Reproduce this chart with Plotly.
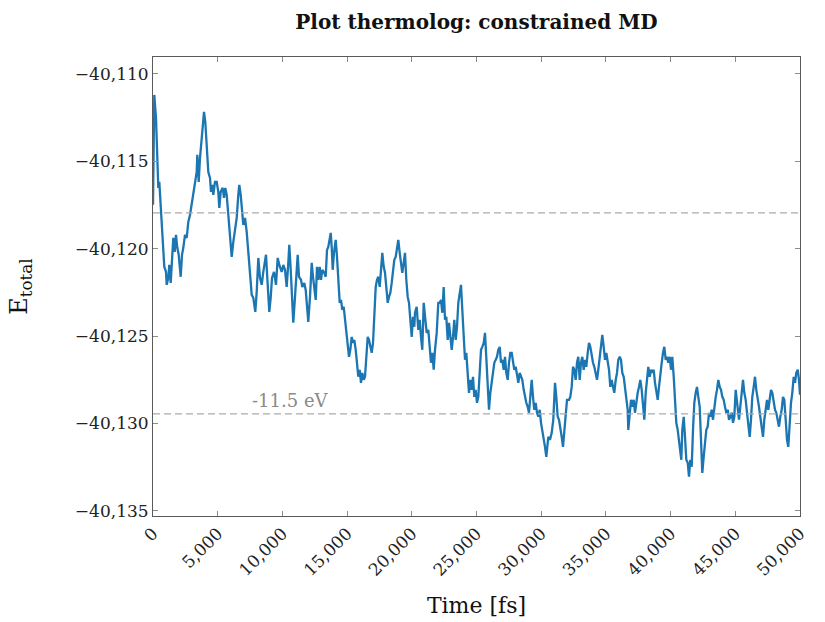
import plotly.graph_objects as go

# Total energy trace of the constrained MD run, split into five stretches of the trajectory
time_a = [0, 100, 232, 286, 332, 410, 487, 541, 672, 796, 873, 1005, 1059, 1182, 1260, 1368, 1468, 1569, 1677, 1777,
          1878, 1986, 2141, 2241, 2342, 2473, 2604, 2728, 2859, 2991, 3114, 3246, 3377, 3424, 3532, 3632, 3764, 3841,
          3941, 4042, 4150, 4274, 4405, 4482, 4583, 4660, 4791, 4923, 5046, 5124, 5232, 5386, 5487, 5587, 5696, 5819,
          5951, 6082, 6206, 6337, 6468, 6592, 6669, 6778, 6878, 6978, 7110, 7241, 7365, 7496, 7628, 7751, 7906, 8014,
          8138, 8269, 8400, 8524, 8733, 8833, 8988, 9096, 9196, 9351, 9505, 9637, 9761, 9946, 10070]
energy_a = [-40117.49, -40111.20, -40112.52, -40113.89, -40115.38, -40116.52, -40116.18, -40116.92, -40118.64, -40120.18,
            -40121.04, -40121.33, -40122.07, -40121.67, -40120.93, -40121.96, -40120.53, -40119.38, -40120.18, -40119.21,
            -40119.95, -40120.35, -40121.61, -40120.35, -40119.95, -40119.21, -40119.38, -40118.47, -40118.07, -40117.49,
            -40116.75, -40116.35, -40115.61, -40114.63, -40116.18, -40114.81, -40113.66, -40112.75, -40112.17, -40112.75,
            -40114.46, -40115.61, -40115.95, -40116.75, -40116.35, -40116.92, -40116.18, -40116.18, -40116.75, -40117.67,
            -40116.75, -40116.52, -40117.09, -40116.52, -40116.92, -40118.24, -40119.04, -40120.47, -40119.61, -40119.04,
            -40118.24, -40116.92, -40116.35, -40116.92, -40118.07, -40118.64, -40118.24, -40119.04, -40120.18, -40121.33,
            -40122.64, -40122.81, -40123.62, -40122.47, -40120.53, -40121.67, -40122.07, -40121.33, -40120.35, -40121.67,
            -40123.62, -40122.81, -40121.67, -40121.33, -40122.07, -40120.53, -40120.93, -40121.33, -40120.93]

time_b = [10201, 10332, 10456, 10533, 10642, 10719, 10842, 10974, 11105, 11182, 11283, 11437, 11538, 11692, 11801,
          11901, 12001, 12133, 12264, 12365, 12465, 12574, 12674, 12774, 12882, 12983, 13083, 13238, 13346, 13447,
          13547, 13655, 13733, 13810, 13887, 13988, 14119, 14220, 14320, 14428, 14529, 14629, 14737, 14838, 14938,
          15046, 15147, 15247, 15356, 15456, 15556, 15665, 15765, 15866, 15974, 16074, 16175, 16283, 16383, 16484,
          16592, 16692, 16793, 16901, 17002, 17102, 17211, 17311, 17411, 17520, 17620, 17720, 17829, 17929, 18029,
          18138, 18238, 18339, 18447, 18547, 18648, 18756, 18856, 18957, 19065, 19165, 19266, 19374, 19475, 19575,
          19683, 19784, 19884, 19993, 20093, 20193]
energy_b = [-40121.21, -40122.19, -40120.81, -40119.78, -40121.21, -40122.36, -40124.24, -40122.76, -40121.21, -40120.35,
            -40121.61, -40121.78, -40122.19, -40121.96, -40122.36, -40123.33, -40124.19, -40122.76, -40120.81, -40121.61,
            -40122.19, -40122.93, -40121.04, -40121.78, -40121.04, -40121.78, -40121.21, -40121.38, -40121.61, -40120.07,
            -40119.90, -40119.32, -40119.10, -40119.90, -40121.21, -40120.24, -40119.50, -40120.47, -40122.19, -40123.10,
            -40122.93, -40123.50, -40123.33, -40124.07, -40124.65, -40125.62, -40126.19, -40125.79, -40125.05, -40125.39,
            -40125.22, -40125.79, -40126.76, -40127.33, -40126.93, -40127.68, -40127.11, -40127.51, -40127.33, -40125.96,
            -40125.05, -40125.22, -40125.62, -40125.96, -40125.39, -40124.07, -40122.19, -40121.78, -40121.61, -40122.19,
            -40121.38, -40120.24, -40121.04, -40121.38, -40122.19, -40123.10, -40122.76, -40122.53, -40121.96, -40121.21,
            -40120.64, -40120.47, -40120.07, -40119.50, -40120.24, -40120.81, -40121.38, -40120.81, -40120.24, -40121.78,
            -40122.76, -40123.10, -40124.07, -40125.05, -40123.90, -40124.47]

time_c = [20247, 20379, 20502, 20611, 20711, 20811, 20920, 21020, 21151, 21275, 21384, 21484, 21584, 21693, 21793,
          21924, 22048, 22156, 22257, 22357, 22465, 22566, 22666, 22775, 22875, 22975, 23084, 23184, 23285, 23393,
          23493, 23594, 23702, 23802, 23903, 24011, 24111, 24212, 24320, 24420, 24521, 24629, 24730, 24830, 24938,
          25039, 25139, 25248, 25348, 25448, 25557, 25657, 25758, 25866, 25966, 26067, 26175, 26275, 26376, 26484,
          26584, 26685, 26793, 26893, 26994, 27102, 27203, 27303, 27411, 27512, 27612, 27721, 27821, 27921, 28030,
          28130, 28231, 28339, 28439, 28540, 28648, 28748, 28849, 28957, 29057, 29158, 29266, 29366, 29467, 29575,
          29676, 29776, 29884, 29985, 30085, 30193, 30294, 30394]
energy_c = [-40123.67, -40123.33, -40124.65, -40124.07, -40125.05, -40125.79, -40123.10, -40123.90, -40124.82, -40124.65,
            -40125.62, -40126.53, -40125.96, -40126.93, -40125.79, -40124.82, -40123.10, -40123.10, -40122.93, -40123.67,
            -40122.19, -40124.07, -40123.90, -40125.22, -40124.24, -40125.05, -40125.79, -40125.05, -40124.07, -40125.22,
            -40124.47, -40123.10, -40122.53, -40122.07, -40123.50, -40125.05, -40126.36, -40125.96, -40126.93, -40128.25,
            -40127.51, -40128.08, -40127.33, -40128.48, -40128.08, -40128.82, -40128.48, -40126.93, -40125.79, -40125.62,
            -40125.39, -40124.82, -40126.19, -40127.51, -40129.22, -40128.25, -40127.68, -40126.93, -40126.53, -40126.36,
            -40126.19, -40125.79, -40125.62, -40126.53, -40126.36, -40126.93, -40126.19, -40127.11, -40127.51, -40126.53,
            -40125.96, -40125.96, -40126.53, -40126.93, -40126.76, -40127.33, -40127.68, -40127.11, -40127.33, -40127.51,
            -40128.08, -40128.48, -40128.82, -40129.05, -40129.39, -40128.48, -40127.51, -40128.48, -40129.22, -40128.82,
            -40129.39, -40129.62, -40129.22, -40129.97, -40130.37, -40130.77, -40131.34, -40131.91]

time_d = [30549, 30680, 30812, 30935, 31067, 31167, 31275, 31376, 31476, 31584, 31685, 31785, 31894, 31994, 32148,
          32249, 32357, 32458, 32558, 32666, 32767, 32867, 32975, 33076, 33176, 33285, 33385, 33485, 33594, 33694,
          33795, 33903, 34003, 34104, 34212, 34312, 34413, 34521, 34621, 34722, 34830, 34931, 35031, 35139, 35240,
          35340, 35448, 35549, 35649, 35758, 35858, 35958, 36067, 36167, 36268, 36376, 36476, 36577, 36685, 36731,
          36839, 36940, 37040, 37149, 37249, 37349, 37458, 37558, 37659, 37767, 37867, 37968, 38076, 38176, 38277,
          38385, 38485, 38586, 38694, 38795, 38895, 39003, 39104, 39204, 39312, 39413, 39513, 39622, 39722, 39822,
          39931, 40031, 40131, 40240, 40340]
energy_d = [-40130.77, -40130.94, -40130.54, -40129.79, -40127.68, -40128.48, -40129.62, -40129.79, -40130.19, -40130.77,
            -40131.34, -40130.37, -40129.62, -40128.65, -40128.65, -40128.48, -40127.91, -40126.76, -40126.93, -40127.51,
            -40126.53, -40126.19, -40127.51, -40126.53, -40126.19, -40126.93, -40126.36, -40126.76, -40125.96, -40125.39,
            -40125.62, -40126.19, -40126.53, -40126.76, -40127.11, -40127.51, -40126.93, -40126.19, -40125.22, -40124.93,
            -40125.62, -40126.36, -40125.96, -40126.53, -40126.93, -40127.91, -40127.51, -40127.91, -40128.25, -40127.51,
            -40127.11, -40126.36, -40126.19, -40126.36, -40127.11, -40127.33, -40127.91, -40128.48, -40129.22, -40130.37,
            -40129.39, -40128.65, -40129.05, -40128.65, -40129.39, -40128.65, -40128.25, -40127.91, -40127.51, -40128.08,
            -40129.05, -40129.79, -40128.25, -40127.51, -40126.76, -40127.33, -40126.93, -40127.11, -40126.93, -40127.68,
            -40128.08, -40128.65, -40127.91, -40127.11, -40126.53, -40125.96, -40125.62, -40126.36, -40126.19, -40126.53,
            -40126.19, -40126.93, -40126.19, -40127.33, -40128.82]

time_e = [40441, 40549, 40649, 40750, 40827, 40904, 41012, 41113, 41213, 41322, 41422, 41522, 41631, 41731, 41832,
          41940, 42040, 42141, 42249, 42349, 42450, 42558, 42659, 42759, 42867, 42968, 43068, 43176, 43277, 43377,
          43486, 43586, 43686, 43795, 43895, 43995, 44104, 44204, 44305, 44413, 44513, 44614, 44722, 44822, 44923,
          45031, 45186, 45286, 45386, 45495, 45595, 45696, 45804, 45904, 46005, 46113, 46213, 46314, 46422, 46523,
          46623, 46731, 46832, 46932, 47040, 47141, 47241, 47349, 47450, 47550, 47659, 47759, 47859, 47968, 48068,
          48168, 48277, 48377, 48478, 48586, 48686, 48787, 48895, 48995, 49096, 49204, 49304, 49405, 49513, 49613,
          49714, 49822, 49922, 50000]
energy_e = [-40129.97, -40130.37, -40130.94, -40131.68, -40132.08, -40130.37, -40129.62, -40130.77, -40132.08, -40132.25,
            -40133.05, -40132.08, -40132.48, -40130.37, -40128.82, -40128.25, -40127.91, -40128.48, -40129.05, -40130.94,
            -40132.83, -40131.91, -40130.94, -40130.37, -40130.19, -40129.39, -40129.62, -40129.22, -40129.79, -40129.05,
            -40128.48, -40128.08, -40127.51, -40127.91, -40128.08, -40128.48, -40128.65, -40129.05, -40129.39, -40129.22,
            -40129.79, -40129.62, -40129.39, -40129.97, -40129.62, -40128.08, -40129.05, -40129.79, -40129.05, -40128.25,
            -40127.51, -40128.25, -40128.65, -40129.39, -40130.19, -40130.77, -40129.79, -40128.48, -40127.91, -40127.33,
            -40128.08, -40128.48, -40129.05, -40129.62, -40130.19, -40130.77, -40129.79, -40129.05, -40128.65, -40129.22,
            -40128.48, -40128.08, -40128.25, -40128.82, -40129.22, -40129.39, -40129.79, -40130.19, -40129.62, -40129.22,
            -40128.48, -40128.65, -40129.79, -40130.94, -40131.34, -40129.97, -40128.82, -40128.25, -40127.33, -40127.68,
            -40127.11, -40126.93, -40127.51, -40128.36]

# Reference energy levels (eV) and the gap between them
upper_level = -40117.95
level_gap = 11.5
lower_level = upper_level - level_gap
gap_label = "-11.5 eV"

x_ticks = [0, 5000, 10000, 15000, 20000, 25000, 30000, 35000, 40000, 45000, 50000]
y_ticks = [-40110, -40115, -40120, -40125, -40130, -40135]

time_fs, energy = [], []
for t_part, e_part in [(time_a, energy_a), (time_b, energy_b), (time_c, energy_c),
                       (time_d, energy_d), (time_e, energy_e)]:
    if len(t_part) != len(e_part):
        raise ValueError(f"length mismatch: {len(t_part)} vs {len(e_part)}")
    time_fs += t_part
    energy += e_part

SERIF = "DejaVu Serif, Liberation Serif, serif"
LINE_BLUE = "#1b76b2"
DASH_GREY = "#ababab"

fig = go.Figure()
fig.add_trace(go.Scatter(x=time_fs, y=energy, mode="lines",
                         line=dict(color=LINE_BLUE, width=2.3), showlegend=False))

for lvl in (upper_level, lower_level):
    fig.add_hline(y=lvl, line=dict(color=DASH_GREY, width=1.3, dash="7px,4px"))

fig.add_annotation(x=10600, y=lower_level, text=gap_label, showarrow=False,
                   yanchor="bottom", yshift=1, font=dict(family=SERIF, size=18, color="#8a8a8a"))

axis_common = dict(ticks="inside", ticklen=5, tickcolor="#8c8c8c", tickwidth=1,
                   showline=True, linecolor="#5a5a5a", linewidth=1, mirror="ticks",
                   showgrid=False, zeroline=False, tickformat=",", automargin=False,
                   tickfont=dict(family=SERIF, size=17, color="#222"))

fig.update_layout(
    width=825, height=622,
    margin=dict(l=153, r=25, t=57, b=106),
    paper_bgcolor="white", plot_bgcolor="white",
    font=dict(family=SERIF, color="#111"),
    title=dict(text="<b>Plot thermolog: constrained MD</b>", x=0.5, xref="paper",
               y=1 - 22 / 622, yref="container", yanchor="middle",
               font=dict(family=SERIF, size=20, color="#111")),
    xaxis=dict(range=[0, 50000], tickvals=x_ticks, tickangle=-45,
               title=dict(text="Time [fs]", font=dict(family=SERIF, size=22), standoff=18),
               **axis_common),
    yaxis=dict(range=[-40135.3, -40109.03], tickvals=y_ticks,
               title=dict(text="E<sub>total</sub>", font=dict(family=SERIF, size=24), standoff=40),
               **axis_common),
)

fig.write_html("out.html")
